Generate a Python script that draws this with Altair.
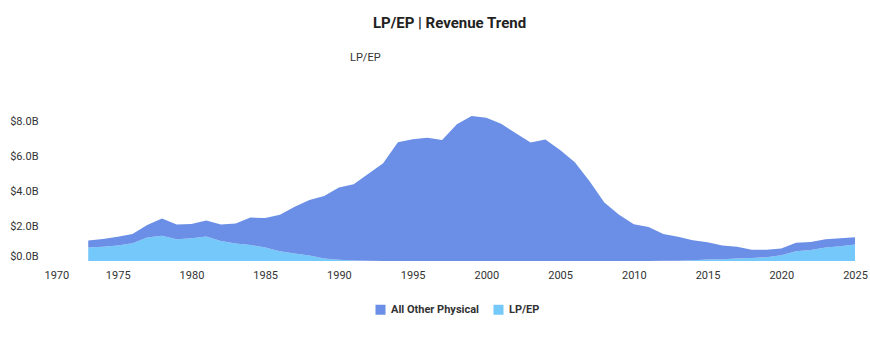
import altair as alt
import pandas as pd

years = list(range(1973, 2026))

lp_ep = [0.77, 0.82, 0.88, 1.02, 1.34, 1.45, 1.25, 1.30, 1.40, 1.15,
         1.00, 0.92, 0.77, 0.56, 0.43, 0.31, 0.15, 0.07, 0.03, 0.01,
         0.0, 0.0, 0.0, 0.0, 0.0, 0.0, 0.0, 0.0, 0.0, 0.0,
         0.0, 0.0, 0.0, 0.0, 0.0, 0.0, 0.0, 0.0, 0.0, 0.01,
         0.02, 0.04, 0.08, 0.10, 0.14, 0.17, 0.22, 0.33, 0.56, 0.63,
         0.77, 0.84, 0.95]

other_physical = [0.40, 0.44, 0.50, 0.53, 0.72, 0.98, 0.83, 0.82, 0.91, 0.93,
                  1.14, 1.56, 1.69, 2.08, 2.67, 3.18, 3.57, 4.13, 4.36, 4.97,
                  5.59, 6.79, 6.96, 7.05, 6.92, 7.82, 8.29, 8.18, 7.84, 7.30,
                  6.77, 6.94, 6.35, 5.65, 4.56, 3.34, 2.64, 2.10, 1.95, 1.54,
                  1.36, 1.15, 0.99, 0.78, 0.67, 0.48, 0.43, 0.38, 0.48, 0.46,
                  0.48, 0.46, 0.41]

series_names = ["All Other Physical", "LP/EP"]
series_colors = ["#6b8fe6", "#74c8fa"]
x_ticks = list(range(1970, 2026, 5))
y_ticks = [0, 2, 4, 6, 8]

rows = []
for i, yr in enumerate(years):
    rows.append({"year": yr, "series": "LP/EP", "value": lp_ep[i], "ord": 0})
    rows.append({"year": yr, "series": "All Other Physical", "value": other_physical[i], "ord": 1})
df = pd.DataFrame(rows)

FONT = "Roboto"

area = alt.Chart(df).mark_area(opacity=1).encode(
    x=alt.X("year:Q",
            scale=alt.Scale(domain=[1970, 2025], nice=False, zero=False),
            axis=alt.Axis(values=x_ticks, format="d", title=None, grid=False,
                          domain=False, ticks=False, labelPadding=8,
                          labelFontSize=11, labelColor="#333333", labelFont=FONT,
                          labelAlign={"condition": {"test": "datum.value == 1970", "value": "left"}, "value": "center"})),
    y=alt.Y("value:Q", stack="zero",
            scale=alt.Scale(domain=[0, 9.2], nice=False),
            axis=alt.Axis(values=y_ticks, title=None, grid=False, domain=False,
                          ticks=False, labelPadding=6, labelFontSize=11,
                          labelColor="#333333", labelFont=FONT,
                          labelExpr="'$' + format(datum.value, '.1f') + 'B'",
                          labelBaseline={"condition": {"test": "datum.value == 0", "value": "bottom"}, "value": "middle"})),
    color=alt.Color("series:N",
                    scale=alt.Scale(domain=series_names, range=series_colors),
                    legend=alt.Legend(orient="none", legendX=331, legendY=204,
                                      direction="horizontal", title=None,
                                      symbolType="square", symbolSize=100, symbolStrokeWidth=0,
                                      labelFontWeight="bold", labelFontSize=11, labelFont=FONT,
                                      labelColor="#333333", columnPadding=14, labelOffset=5)),
    order=alt.Order("ord:Q"),
)

subtitle = alt.Chart(pd.DataFrame({"t": ["LP/EP"]})).mark_text(
    align="left", baseline="middle", fontSize=11, font=FONT, color="#333333"
).encode(x=alt.value(306), y=alt.value(-42), text="t:N")

chart = alt.layer(area, subtitle).properties(
    width=811, height=161,
    title=alt.TitleParams("LP/EP | Revenue Trend", anchor="middle", frame="group",
                          fontSize=15, font=FONT, fontWeight="bold",
                          color="#222222", offset=21),
    padding={"left": 44, "top": 100, "right": 15, "bottom": 91},
    autosize=alt.AutoSizeParams(type="none"),
).configure_view(stroke=None)

chart.save("out.html", embed_options={"renderer": "svg", "actions": False})
